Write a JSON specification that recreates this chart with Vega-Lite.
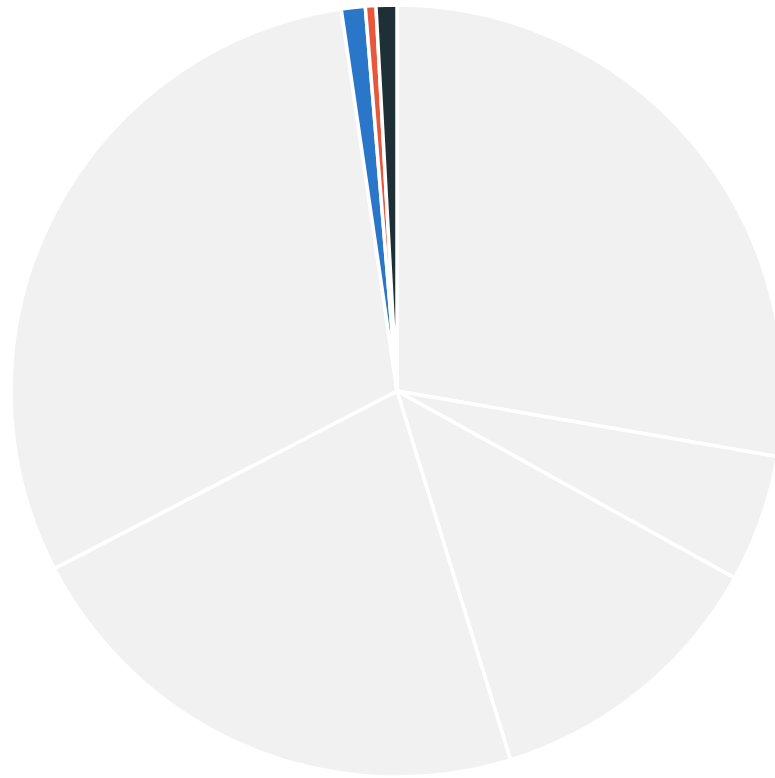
{
  "$schema": "https://vega.github.io/schema/vega-lite/v6.json",
  "width": 772,
  "height": 772,
  "autosize": {"type": "none"},
  "padding": {"left": 11, "top": 5, "right": 0, "bottom": 0},
  "background": "white",
  "view": {"stroke": null},
  "data": {
    "values": [
      {"slice": "A", "group": "other", "value": 27.72, "order": 1},
      {"slice": "B", "group": "other", "value": 5.33, "order": 2},
      {"slice": "C", "group": "other", "value": 12.2, "order": 3},
      {"slice": "D", "group": "other", "value": 22.14, "order": 4},
      {"slice": "E", "group": "other", "value": 30.3, "order": 5},
      {"slice": "F", "group": "blue", "value": 1.0, "order": 6},
      {"slice": "G", "group": "red", "value": 0.44, "order": 7},
      {"slice": "H", "group": "dark", "value": 0.87, "order": 8}
    ]
  },
  "mark": {"type": "arc", "outerRadius": 386, "stroke": "white", "strokeWidth": 3.5},
  "encoding": {
    "theta": {"field": "value", "type": "quantitative", "stack": true},
    "order": {"field": "order", "type": "quantitative"},
    "color": {
      "field": "group",
      "type": "nominal",
      "scale": {"domain": ["other", "blue", "red", "dark"], "range": ["#f1f1f1", "#2a77c9", "#e8573c", "#1f2f36"]},
      "legend": null
    }
  }
}
